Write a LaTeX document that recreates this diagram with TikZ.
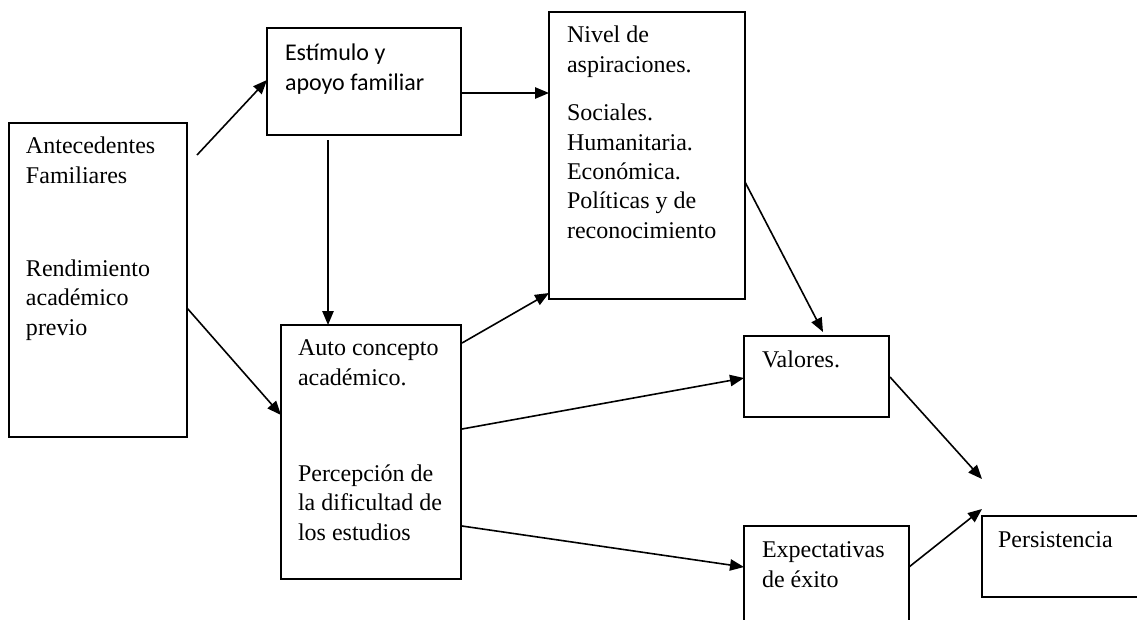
\documentclass[tikz,border=0pt]{standalone}
\usepackage{fontspec}
\setmainfont{Liberation Serif}
\newfontfamily\calib{Carlito}
\usetikzlibrary{arrows.meta}
\begin{document}
\begin{tikzpicture}[x=0.75pt,y=-0.75pt,
  box/.style={draw=black,line width=1pt,inner sep=0pt,outer sep=0pt,fill=none},
  txt/.style={inner sep=0pt,outer sep=0pt,align=left,font=\fontsize{18pt}{22pt}\selectfont},
  stxt/.style={inner sep=0pt,outer sep=0pt,align=left,font=\calib\fontsize{18pt}{22.5pt}\selectfont},
  arr/.style={line width=1.2pt,-{Triangle[length=10.5pt,width=8.5pt]}}]
\useasboundingbox (0,0) rectangle (1137,619);
% boxes
\node[box,minimum width=133.5pt,minimum height=235.5pt] (ant) at (98,280) {};
\node[box,minimum width=145.5pt,minimum height=80.25pt] (est) at (364,81.5) {};
\node[box,minimum width=147pt,minimum height=215.25pt] (niv) at (647,155.5) {};
\node[box,minimum width=135pt,minimum height=190.5pt] (auto) at (371,452) {};
\node[box,minimum width=108.75pt,minimum height=60.75pt] (val) at (816.5,376.5) {};
\node[box,minimum width=123.75pt,minimum height=85.5pt] (exp) at (826.5,583) {};
\node[box,minimum width=126pt,minimum height=60.75pt] (per) at (1066,556.5) {};
% texts (anchored at the baseline of their last line)
\node[txt,anchor=base west] (t1) at (26,183) {Antecedentes\\Familiares};
\node[txt,anchor=base west] (t2) at (26,335) {Rendimiento\\académico\\previo};
\node[stxt,anchor=base west] (t3) at (285,90) {Estímulo y\\apoyo familiar};
\node[txt,anchor=base west] (t4) at (567,72) {Nivel de\\aspiraciones.};
\node[txt,anchor=base west] (t5) at (567,238) {Sociales.\\Humanitaria.\\Económica.\\Políticas y de\\reconocimiento};
\node[txt,anchor=base west] (t6) at (298,385) {Auto concepto\\académico.};
\node[txt,anchor=base west] (t7) at (298,540) {Percepción de\\la dificultad de\\los estudios};
\node[txt,anchor=base west] (t8) at (762,367) {Valores.};
\node[txt,anchor=base west] (t9) at (762,587) {Expectativas\\de éxito};
\node[txt,anchor=base west] (t10) at (998,547) {Persistencia};
% connector end points
\coordinate (c1) at (197,155);
\coordinate (c2) at (267,80);
\coordinate (c3) at (187,308);
\coordinate (c4) at (281,415);
\coordinate (c5) at (328,140);
\coordinate (c6) at (328,325);
\coordinate (c7) at (461,93);
\coordinate (c8) at (549,93);
\coordinate (c9) at (462,343);
\coordinate (c10) at (549,293);
\coordinate (c11) at (462,429);
\coordinate (c12) at (744,378);
\coordinate (c13) at (462,526);
\coordinate (c14) at (744,567);
\coordinate (c15) at (745,182);
\coordinate (c16) at (823,332);
\coordinate (c17) at (890,377);
\coordinate (c18) at (982,479);
\coordinate (c19) at (909,567);
\coordinate (c20) at (982,509);
% connectors
\draw[arr] (c1) -- (c2);
\draw[arr] (c3) -- (c4);
\draw[arr] (c5) -- (c6);
\draw[arr] (c7) -- (c8);
\draw[arr] (c9) -- (c10);
\draw[arr] (c11) -- (c12);
\draw[arr] (c13) -- (c14);
\draw[arr] (c15) -- (c16);
\draw[arr] (c17) -- (c18);
\draw[arr] (c19) -- (c20);
\end{tikzpicture}
\end{document}
